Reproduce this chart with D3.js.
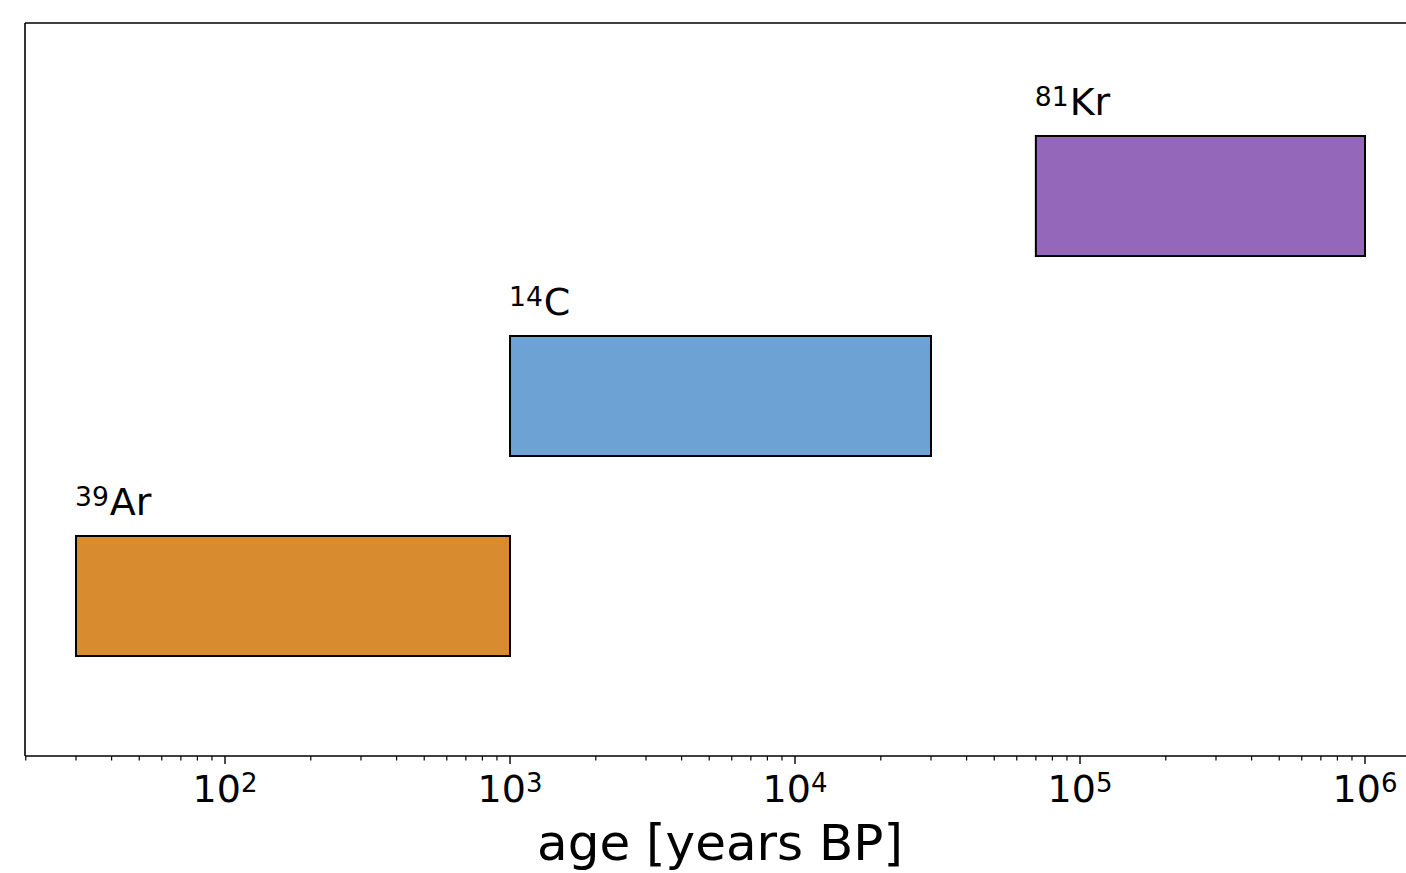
<!DOCTYPE html>
<html>
<head>
<meta charset="utf-8">
<script src="https://cdn.jsdelivr.net/npm/d3@7"></script>
<style>
  body { margin: 0; background: #fff; }
  text { font-family: "DejaVu Sans", sans-serif; }
</style>
</head>
<body>
<svg id="canvas" width="1406" height="873"></svg>
<script>
// datos de los isotopos
const isotopos = ["39Ar", "14C", "81Kr"]
const masas = ["39", "14", "81"]
const simbolos = ["Ar", "C", "Kr"]
const edadMin = [30, 1000, 70000]
const edadMax = [1000, 30000, 1000000]
const colores = ["#D88C2F", "#6CA3D4", "#9467BB"]
const ticksMayores = [2, 3, 4, 5, 6]

const canvas = d3.select("#canvas")

const margenIzq = 25, margenSup = 23, margenInf = 756
// el eje se sale por la derecha de la imagen
const x = d3.scaleLog().domain([20, 1.5e6]).range([25.8, 1415.2])
const y = d3.scaleLinear().domain([-0.8, 2.865]).range([margenInf, margenSup])

// barras
isotopos.forEach((iso, i) => {
    canvas.append("rect")
        .attr("x", x(edadMin[i]))
        .attr("y", y(i + 0.3))
        .attr("width", x(edadMax[i]) - x(edadMin[i]))
        .attr("height", y(i - 0.3) - y(i + 0.3))
        .attr("fill", colores[i])
        .attr("stroke", "#000")
        .attr("stroke-width", 2)

    // etiqueta con superindice
    const t = canvas.append("text")
        .attr("x", x(edadMin[i]) - 1)
        .attr("y", y(i + 0.3) - 21)
        .attr("font-size", 38)
    t.append("tspan").attr("font-size", 26.6).attr("dy", -9).text(masas[i])
    t.append("tspan").attr("dy", 9).attr("dx", 1).text(simbolos[i])
})

// ticks menores
const menores = []
for (let e = 1; e <= 6; e++) {
    for (let m = 2; m <= 9; m++) {
        const v = m * Math.pow(10, e)
        if (v >= 20 && v <= 1.5e6) menores.push(v)
    }
}
canvas.selectAll(".menor").data(menores).enter().append("line")
    .attr("x1", d => x(d)).attr("x2", d => x(d))
    .attr("y1", margenInf).attr("y2", margenInf + 4.5)
    .attr("stroke", "#000").attr("stroke-width", 1.2)

canvas.selectAll(".mayor").data(ticksMayores).enter().append("line")
    .attr("x1", d => x(Math.pow(10, d))).attr("x2", d => x(Math.pow(10, d)))
    .attr("y1", margenInf).attr("y2", margenInf + 8)
    .attr("stroke", "#000").attr("stroke-width", 1.4)

// etiquetas de ticks 10^n
ticksMayores.forEach(d => {
    const t = canvas.append("text")
        .attr("x", x(Math.pow(10, d)))
        .attr("y", 801.5)
        .attr("text-anchor", "middle")
        .attr("font-size", 38)
    t.append("tspan").text("10")
    t.append("tspan").attr("font-size", 26).attr("dy", -10).text(d)
})

// marco
canvas.append("line").attr("x1", margenIzq).attr("x2", 1406).attr("y1", margenSup).attr("y2", margenSup)
    .attr("stroke", "#000").attr("stroke-width", 1.6)
canvas.append("line").attr("x1", margenIzq).attr("x2", 1406).attr("y1", margenInf).attr("y2", margenInf)
    .attr("stroke", "#000").attr("stroke-width", 1.6)
canvas.append("line").attr("x1", margenIzq).attr("x2", margenIzq).attr("y1", margenSup).attr("y2", margenInf)
    .attr("stroke", "#000").attr("stroke-width", 1.6)

// titulo del eje
canvas.append("text")
    .attr("x", 720).attr("y", 860)
    .attr("text-anchor", "middle")
    .attr("font-size", 50)
    .text("age [years BP]")
</script>
</body>
</html>
